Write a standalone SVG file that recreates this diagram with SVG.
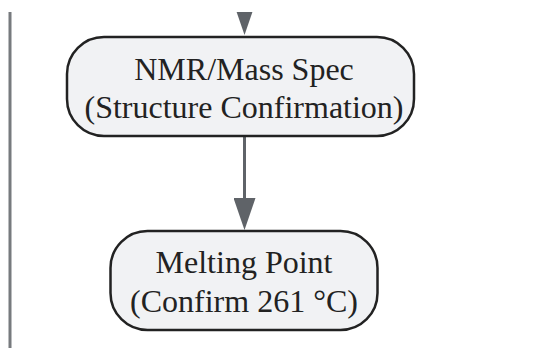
<svg xmlns="http://www.w3.org/2000/svg" width="555" height="348" viewBox="0 0 555 348">
  <style>
    .node rect { fill: #f1f2f4; stroke: #222222; stroke-width: 2.5; }
    .node text { font-family: "Liberation Serif", "Times New Roman", serif; font-size: 32px; fill: #222222; text-anchor: middle; }
    .edge { fill: none; stroke: #5f6368; stroke-width: 3; }
    .frame { stroke: #777a7e; stroke-width: 3; }
  </style>
  <defs>
    <marker id="arrow" viewBox="0 0 32 22" refX="0" refY="11" markerWidth="32" markerHeight="22" markerUnits="userSpaceOnUse" orient="auto">
      <path d="M0,0 L32,11 L0,22 z" fill="#5f6368"/>
    </marker>
    <clipPath id="view">
      <rect x="0" y="12" width="555" height="336"/>
    </clipPath>
  </defs>
  <rect width="555" height="348" fill="#ffffff"/>
  <g clip-path="url(#view)">
    <line class="frame" x1="10" y1="0" x2="10" y2="348"/>
    <g id="connectors">
      <path class="edge" d="M244.5,-30 L244.5,3" marker-end="url(#arrow)"/>
      <path class="edge" d="M244.5,137 L244.5,198" marker-end="url(#arrow)"/>
    </g>
    <g id="node-nmr" class="node">
      <rect x="67" y="37" width="347" height="99" rx="37" ry="37"/>
      <text x="244" y="80">NMR/Mass Spec</text>
      <text x="244" y="118">(Structure Confirmation)</text>
    </g>
    <g id="node-melting" class="node">
      <rect x="110.5" y="231" width="267" height="99" rx="37" ry="37"/>
      <text x="244" y="273">Melting Point</text>
      <text x="244" y="312">(Confirm 261 °C)</text>
    </g>
  </g>
</svg>
